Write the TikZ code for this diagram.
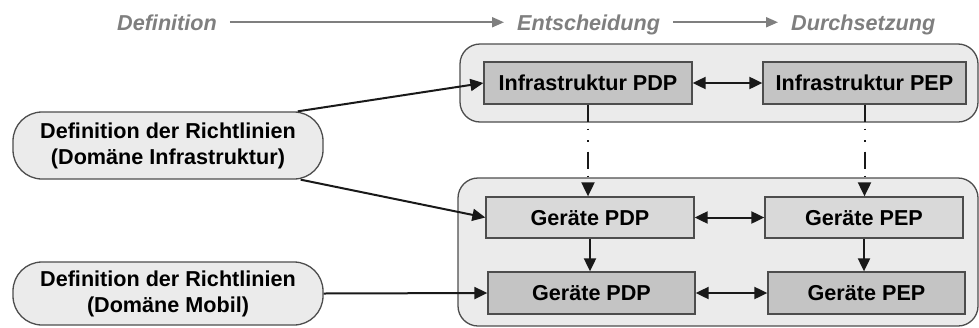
\documentclass[tikz,border=0pt]{standalone}
\usepackage{fontspec}
\setmainfont{Liberation Sans}
\usetikzlibrary{arrows.meta,calc}

\definecolor{hdrgray}{HTML}{7F7F7F}
\definecolor{edgegray}{HTML}{4D4D4D}
\definecolor{panelfill}{HTML}{EBEBEB}
\definecolor{pillfill}{HTML}{EBEBEB}
\definecolor{boxdark}{HTML}{C4C4C4}
\definecolor{boxlight}{HTML}{D9D9D9}

\begin{document}
\begin{tikzpicture}[x=1pt,y=-1pt,
  every node/.style={font=\fontsize{21.6}{26}\selectfont\bfseries},
  hdr/.style={anchor=base west,inner sep=0pt,text=hdrgray,
    font=\fontsize{21.6}{26}\selectfont\bfseries\itshape,
    text height=15.5pt,text depth=0pt},
  hdrarrow/.style={draw=hdrgray,line width=2pt,
    -{Triangle[length=12pt,width=10pt]}},
  panel/.style={draw=edgegray,line width=1.3pt,fill=panelfill,
    rounded corners=20pt,inner sep=0pt},
  pill/.style={draw=edgegray,line width=1.3pt,fill=pillfill,
    rounded corners=29pt,inner sep=0pt,align=center,minimum width=310pt},
  unit/.style={draw=edgegray,line width=1.3pt,inner sep=0pt,
    text height=15.5pt,text depth=0pt},
  conn/.style={draw=black!90,line width=2pt,
    -{Triangle[length=13pt,width=12pt]}},
  twoway/.style={draw=black!90,line width=2pt,
    {Triangle[length=13pt,width=12pt]}-{Triangle[length=13pt,width=12pt]}},
  derive/.style={draw=black!90,line width=2pt,
    dash pattern=on 17pt off 7pt on 1.5pt off 10pt on 1.5pt off 10pt,
    -{Triangle[length=14pt,width=13pt]}}
]
\useasboundingbox (0,0) rectangle (979,327);

% header: policy life cycle
\node[hdr] (hdef) at (117,30) {Definition};
\node[hdr] (hent) at (517,30) {Entscheidung};
\node[hdr] (hdur) at (791,30) {Durchsetzung};
\draw[hdrarrow] ([xshift=13pt]hdef.east) -- ([xshift=-13pt]hent.west);
\draw[hdrarrow] ([xshift=13pt]hent.east) -- ([xshift=-13pt]hdur.west);

% domain panels
\node[panel,minimum width=518pt,minimum height=78pt] (cont1) at (719,83) {};
\node[panel,minimum width=520pt,minimum height=148pt] (cont2) at (718,252) {};

% decision and enforcement points
\node[unit,fill=boxdark,minimum width=208pt,minimum height=42pt] (ipdp) at (588,83) {Infrastruktur PDP};
\node[unit,fill=boxdark,minimum width=203pt,minimum height=42pt] (ipep) at (864.5,83) {Infrastruktur PEP};
\node[unit,fill=boxlight,minimum width=208pt,minimum height=41pt] (gpdp1) at (590,217.5) {Geräte PDP};
\node[unit,fill=boxlight,minimum width=198pt,minimum height=41pt] (gpep1) at (864,217.5) {Geräte PEP};
\node[unit,fill=boxdark,minimum width=207pt,minimum height=42pt] (gpdp2) at (591.5,293) {Geräte PDP};
\node[unit,fill=boxdark,minimum width=197pt,minimum height=42pt] (gpep2) at (866.5,293) {Geräte PEP};

% policy definitions
\node[pill,minimum height=67pt] (def1) at (168,145.5) {Definition der Richtlinien\\(Domäne Infrastruktur)};
\node[pill,minimum height=63pt] (def2) at (168,293.5) {Definition der Richtlinien\\(Domäne Mobil)};

% connectors
\draw[conn] ($(def1.north east)+(-26,0)$) -- (ipdp.west);
\draw[conn] ($(def1.south east)+(-23,0)$) -- (gpdp1.west);
\draw[conn] (def2.east) -- (gpdp2.west);

\draw[twoway] (ipdp.east) -- (ipep.west);
\draw[twoway] (gpdp1.east) -- (gpep1.west);
\draw[twoway] (gpdp2.east) -- (gpep2.west);

\draw[derive] (ipdp.south) -- (ipdp.south |- gpdp1.north);
\draw[derive] (ipep.south) -- (ipep.south |- gpep1.north);

\draw[conn] (gpdp1.south) -- (gpdp1.south |- gpdp2.north);
\draw[conn] (gpep1.south) -- (gpep1.south |- gpep2.north);
\end{tikzpicture}
\end{document}
